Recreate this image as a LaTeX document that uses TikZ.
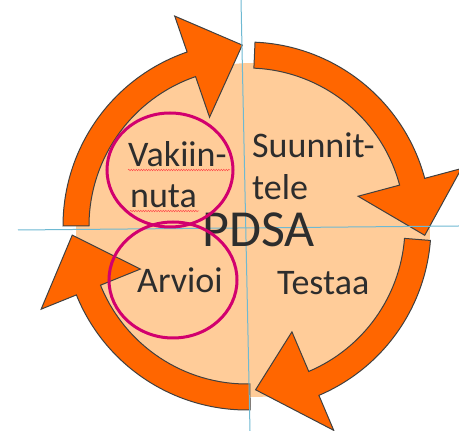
\documentclass[tikz,border=0pt]{standalone}
\usepackage{fontspec}
\newfontfamily\tekstifont{Carlito}
\usetikzlibrary{decorations.pathmorphing}

\definecolor{oranssi}{RGB}{255,102,0}
\definecolor{persikka}{RGB}{255,204,153}
\definecolor{reuna}{RGB}{64,64,64}
\definecolor{magenta}{RGB}{210,0,110}
\definecolor{apuviiva}{RGB}{110,185,210}
\definecolor{teksti}{RGB}{45,45,45}

\tikzset{
  nuoli/.style={fill=oranssi, draw=reuna, line width=1pt, line join=miter},
  vaihe/.style={font=\tekstifont\fontsize{36}{42}\selectfont, text=teksti, inner sep=0pt, anchor=base west},
  rengas/.style={draw=magenta, line width=3pt},
  kiemura/.style={draw=red!70, line width=0.5pt, decorate, decoration={snake, segment length=2.5pt, amplitude=0.7pt}}
}

% tail angle, head base angle, tip angle, tip radius
\newcommand{\kaarinuoli}[4]{%
  \draw[nuoli] (#1:184) arc[start angle=#1, end angle=#2, radius=184]
    -- (#2:222) -- (#3:#4) -- (#2:115) -- (#2:158)
    arc[start angle=#2, end angle=#1, radius=158] -- cycle;}

\begin{document}
\begin{tikzpicture}[x=1pt, y=1pt]
    \useasboundingbox (0,0) rectangle (459,431);
    \fill[persikka] (253,201) ellipse [x radius=177, y radius=167];

    \begin{scope}[shift={(247,205)}]
        \kaarinuoli{180}{109}{91.5}{181}
        \kaarinuoli{87.5}{15}{-3}{178}
        \kaarinuoli{-4.5}{-67}{-87}{164}
        \kaarinuoli{-89}{-158}{-177}{175}
    \end{scope}

    \draw[apuviiva, line width=1pt] (18,201) -- (459,205);
    \draw[apuviiva, line width=1pt] (241,431) -- (250,0);

    \node[vaihe] (suunnit) at (252,273) {Suunnit-};
    \node[vaihe] (tele) at (252,231) {tele};
    \node[vaihe] (vakiin) at (128,264) {Vakiin-};
    \node[vaihe] (nuta) at (130,223) {nuta};
    \node[vaihe] (arvioi) at (137,138) {Arvioi};
    \node[vaihe] (testaa) at (277,136) {Testaa};
    \node[vaihe, font=\tekstifont\fontsize{52}{60}\selectfont] (pdsa) at (202,184) {PDSA};

    \draw[kiemura] (vakiin.base west) ++(0,-3) -- ++(102,0);
    \draw[kiemura] (nuta.base west) ++(0,-3) -- ++(69,0);

    \draw[rengas] (170,261) ellipse [x radius=63, y radius=57];
    \draw[rengas] (173,151) ellipse [x radius=64, y radius=58];
\end{tikzpicture}
\end{document}
